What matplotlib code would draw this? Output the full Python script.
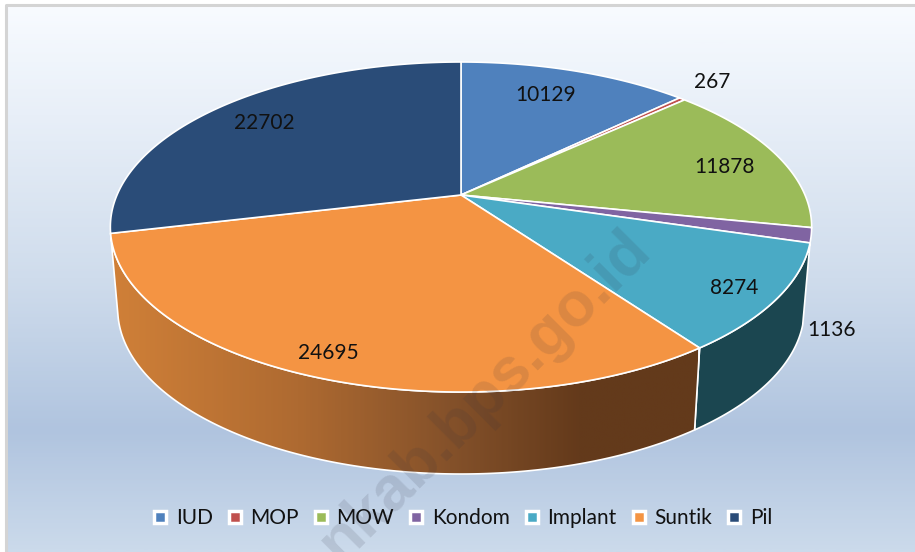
import numpy as np
import matplotlib
matplotlib.use("Agg")
import matplotlib.pyplot as plt
from matplotlib.colors import LinearSegmentedColormap
from matplotlib.lines import Line2D
from matplotlib.patches import Polygon

plt.rcParams['font.family'] = ['Lato', 'DejaVu Sans']

# Data
categories = ['IUD', 'MOP', 'MOW', 'Kondom', 'Implant', 'Suntik', 'Pil']
values = [10129, 267, 11878, 1136, 8274, 24695, 22702]
colors = ['#4f81bd', '#c0504d', '#9bbb59', '#8064a2', '#4aaac5', '#f49443', '#2a4c78']

# Where the value labels sit (pixels, centre of the text)
label_x = [546, 712, 724, 832, 734, 328, 264]
label_y = [95, 82, 167, 330, 288, 353, 123]

# Perspective of the pie: apex position, width, height and tilt
apex_x, apex_y = 461, 195
pie_a, pie_b, tilt = 344, 158.8, 0.194
depth = 82
base_scale = 0.979


def project(angle, scale=1.0, drop=0):
    # angle in degrees, clockwise from the top of the pie
    u = np.sin(np.radians(angle))
    v = np.cos(np.radians(angle))
    den = 1 + tilt * v
    return apex_x + scale * pie_a * u / den, apex_y + drop - pie_b * v / den


fig = plt.figure(figsize=(9.15, 5.52), dpi=100)
ax = fig.add_axes([0, 0, 1, 1])

# Background with border on the top and left only
back = LinearSegmentedColormap.from_list('back', [
    (0.0, '#f8fbff'), (0.2, '#e8eff8'), (0.5, '#cfdcec'),
    (0.78, '#b0c4df'), (1.0, '#cbdaeb')])
ax.imshow(np.linspace(0, 1, 300)[:, None], cmap=back, aspect='auto',
          extent=(6, 915, 552, 5), zorder=0)
ax.plot([5.5, 5.5, 915], [552, 5, 5], color='#d4d4d4', lw=2.2, zorder=1)

angles = np.concatenate([[0], np.cumsum(values) / np.sum(values) * 360])

# Side wall, only the two slices that face the viewer show it
implant_t = np.linspace(angles[4], angles[5], 80)
suntik_t = np.linspace(angles[5], angles[6], 200)

xs, ys = project(implant_t)
xb, yb = project(implant_t[::-1], base_scale, depth)
ax.add_patch(Polygon(np.c_[np.r_[xs, xb], np.r_[ys, yb]], closed=True,
                     facecolor='#1b4650', edgecolor='white', lw=1.2, zorder=2))

xs, ys = project(suntik_t)
xb, yb = project(suntik_t[::-1], base_scale, depth)
wall = Polygon(np.c_[np.r_[xs, xb], np.r_[ys, yb]], closed=True,
               facecolor='none', edgecolor='white', lw=1.2, zorder=4)
ax.add_patch(wall)
wall_cmap = LinearSegmentedColormap.from_list('wall', [
    (0.0, '#d08038'), (0.32, '#ae6a31'), (0.58, '#84512a'),
    (0.8, '#643a1b'), (1.0, '#633a1b')])
grad = ax.imshow(np.linspace(0, 1, 300)[None, :], cmap=wall_cmap, aspect='auto',
                 extent=(110, 698, 480, 230), zorder=3)
grad.set_clip_path(wall)

# Top of the pie
for i, name in enumerate(categories):
    t = np.linspace(angles[i], angles[i + 1], 120)
    x, y = project(t)
    x = np.r_[apex_x, x]
    y = np.r_[apex_y, y]
    ax.fill(x, y, facecolor=colors[i], edgecolor='white', lw=1.2, zorder=5)

# Value labels
for i, val in enumerate(values):
    ax.text(label_x[i], label_y[i], str(val), fontsize=15, color='#111111',
            ha='center', va='center', zorder=7)

# Watermark, runs off the bottom edge like in the original
ax.text(341, 564, 'nkab.bps.go.id', fontsize=45, fontweight='bold',
        family=['Liberation Sans'], color='#303040', alpha=0.13, rotation=45,
        rotation_mode='anchor', ha='left', va='baseline', zorder=6)

# Legend
handles = [Line2D([], [], linestyle='none', marker='s', markersize=8,
                  markerfacecolor=c, markeredgecolor='white', markeredgewidth=2.5)
           for c in colors]
ax.legend(handles, categories, loc='center', bbox_to_anchor=(461 / 915, 1 - 518 / 552),
          ncol=7, frameon=False, fontsize=15, labelcolor='#111111',
          handletextpad=0.25, columnspacing=0.56, handlelength=1.0)

ax.set_xlim(0, 915)
ax.set_ylim(552, 0)
ax.axis('off')

fig.savefig('out.png', dpi=100)
